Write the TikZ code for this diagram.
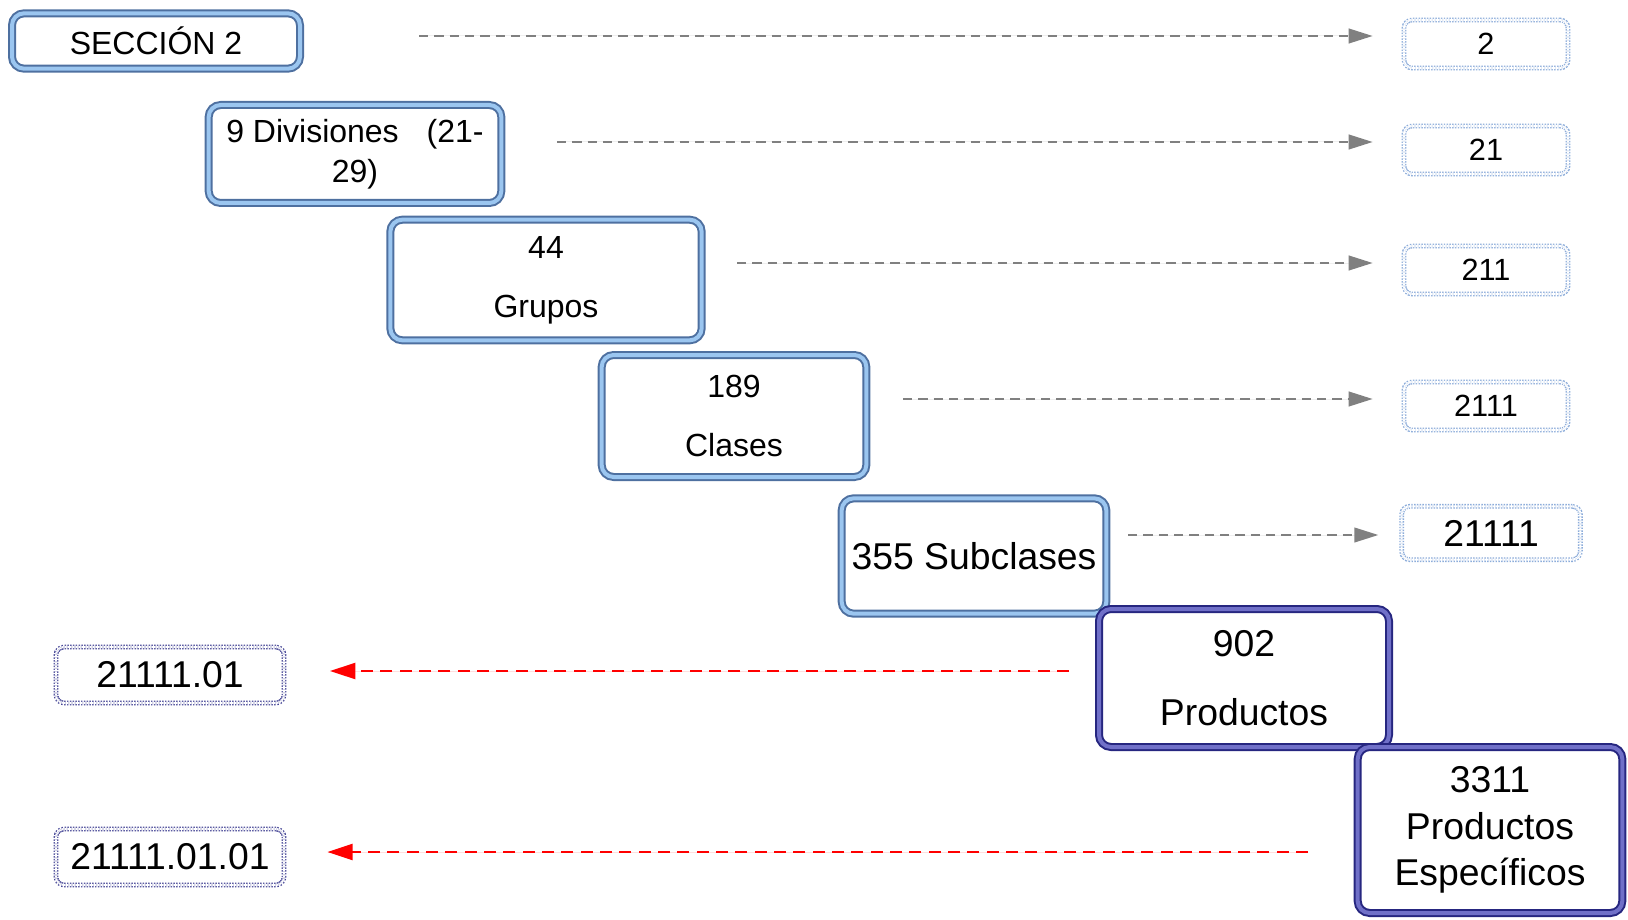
\documentclass[tikz,border=0pt]{standalone}
\usepackage{fontspec}
\setmainfont{Liberation Sans}
\usetikzlibrary{arrows.meta}
\definecolor{steelrim}{RGB}{78,112,160}
\definecolor{skyrim}{RGB}{155,198,240}
\definecolor{navyrim}{RGB}{38,38,128}
\definecolor{lavrim}{RGB}{112,112,200}
\definecolor{dotblue}{RGB}{140,172,218}
\definecolor{dotnavy}{RGB}{70,70,150}
\definecolor{arrowgray}{RGB}{128,128,128}
\tikzset{
  levelbox/.style={draw=steelrim, double=skyrim, line width=1.5pt, double distance=3pt, rounded corners=9pt, fill=white, align=center, inner sep=0pt},
  deepbox/.style={levelbox, draw=navyrim, double=lavrim},
  codebox/.style={draw=dotblue, double=white, line width=1pt, double distance=1.6pt, dash pattern=on 1.1pt off 1pt, rounded corners=6pt, fill=white, align=center, inner sep=0pt, minimum width=123pt, minimum height=36pt, font=\fontsize{23}{28}\selectfont},
  pathbox/.style={codebox, draw=dotnavy, minimum width=171pt, minimum height=42pt, font=\fontsize{28}{34}\selectfont},
  grayarrow/.style={-{Triangle[length=18pt,width=11pt]}, draw=arrowgray, fill=arrowgray, line width=1.5pt, dash pattern=on 7pt off 4.5pt},
  redarrow/.style={-{Triangle[length=19pt,width=12pt]}, draw=red, fill=red, line width=1.8pt, dash pattern=on 9pt off 5.5pt}
}
\begin{document}
\begin{tikzpicture}[x=0.75pt, y=-0.75pt]
\useasboundingbox (0,0) rectangle (1628,920);
% levels of the classification
\node[levelbox, minimum width=216pt, minimum height=41.5pt, font=\fontsize{24}{30}\selectfont] (sec) at (156,41) {SECCIÓN 2};
\node[levelbox, minimum width=219.5pt, minimum height=73.5pt, font=\fontsize{24}{30}\selectfont] (div) at (355,154) {9 Divisiones\hspace{21pt}(21-\\29)};
\node[levelbox, minimum width=233.5pt, minimum height=90.5pt, font=\fontsize{24}{44}\selectfont] (grp) at (546,280) {44\\Grupos};
\node[levelbox, minimum width=198.5pt, minimum height=91.5pt, font=\fontsize{24}{44}\selectfont] (cls) at (734,416) {189\\Clases};
\node[levelbox, minimum width=198.5pt, minimum height=86.5pt, font=\fontsize{28}{34}\selectfont] (sub) at (974,556) {355 Subclases};
\node[deepbox, minimum width=217.5pt, minimum height=103.5pt, font=\fontsize{28}{52}\selectfont] (prd) at (1244,678) {902\\Productos};
\node[deepbox, minimum width=198.5pt, minimum height=124.5pt, font=\fontsize{28}{35}\selectfont] (esp) at (1490,830) {3311\\Productos\\Específicos};
% codes
\node[codebox] (k2) at (1486,44) {2};
\node[codebox] (k21) at (1486,150) {21};
\node[codebox] (k211) at (1486,270) {211};
\node[codebox] (k2111) at (1486,406) {2111};
\node[codebox, minimum width=134pt, minimum height=40pt, font=\fontsize{28}{34}\selectfont] (k21111) at (1491,533) {21111};
\node[pathbox] (p01) at (170,675) {21111.01};
\node[pathbox] (p0101) at (170,857) {21111.01.01};
% connectors
\coordinate (g1) at (419,36);
\coordinate (g2) at (557,142);
\coordinate (g3) at (737,263);
\coordinate (g4) at (903,399);
\coordinate (g5) at (1128,535);
\coordinate (r1) at (1069,671);
\coordinate (r2) at (1308,852);
\draw[grayarrow, shorten >=23pt] (g1) -- (g1 -| k2.west);
\draw[grayarrow, shorten >=23pt] (g2) -- (g2 -| k21.west);
\draw[grayarrow, shorten >=23pt] (g3) -- (g3 -| k211.west);
\draw[grayarrow, shorten >=23pt] (g4) -- (g4 -| k2111.west);
\draw[grayarrow, shorten >=17pt] (g5) -- (g5 -| k21111.west);
\draw[redarrow, shorten >=34pt] (r1) -- (r1 -| p01.east);
\draw[redarrow, shorten >=32pt] (r2) -- (r2 -| p0101.east);
\end{tikzpicture}
\end{document}
